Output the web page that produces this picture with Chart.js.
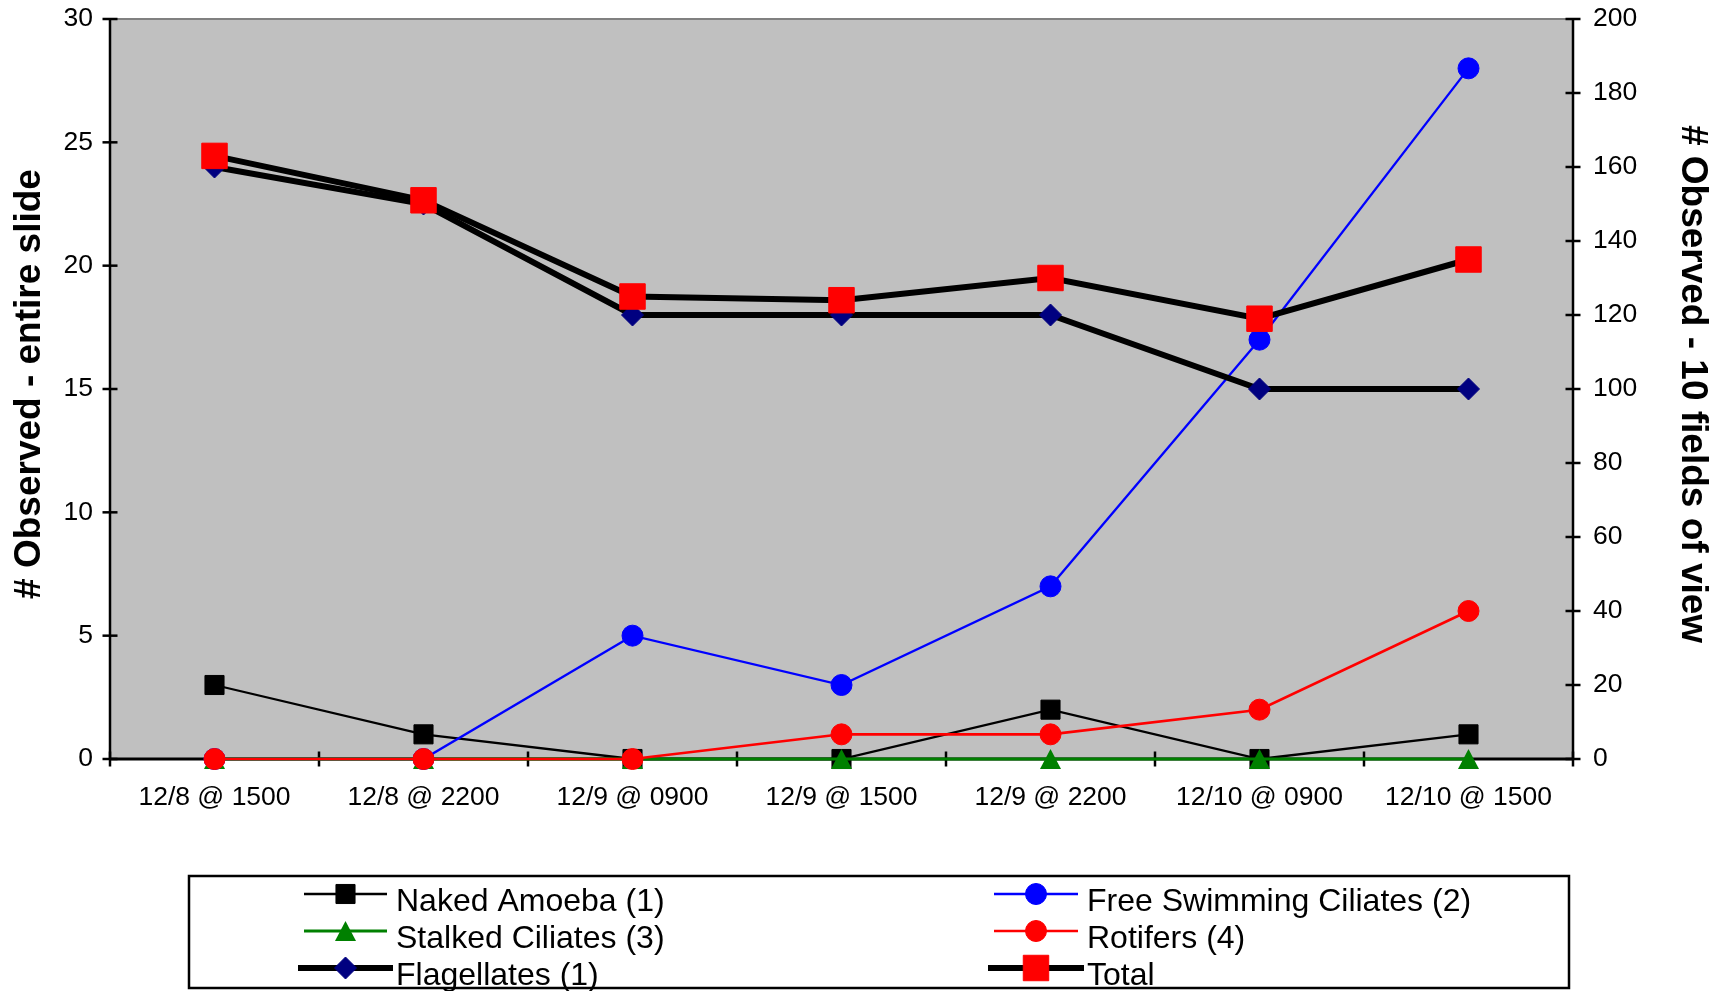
<!DOCTYPE html>
<html>
<head>
<meta charset="utf-8">
<title>Protozoa observed over time</title>
<style>
  html, body { margin: 0; padding: 0; background: #ffffff; }
  #wrap { position: relative; width: 1725px; height: 991px; }
  canvas { display: block; }
</style>
<script src="https://cdn.jsdelivr.net/npm/chart.js@4.4.1/dist/chart.umd.min.js"></script>
</head>
<body>
<div id="wrap"><canvas id="chart" width="1725" height="991"></canvas></div>
<script>
// Sampling times
const categories = ['12/8 @ 1500', '12/8 @ 2200', '12/9 @ 0900', '12/9 @ 1500', '12/9 @ 2200', '12/10 @ 0900', '12/10 @ 1500'];

// Counts over the entire slide (left axis)
const nakedAmoeba = [3, 1, 0, 0, 2, 0, 1];
const freeSwimmingCiliates = [0, 0, 5, 3, 7, 17, 28];
const stalkedCiliates = [0, 0, 0, 0, 0, 0, 0];
const rotifers = [0, 0, 0, 1, 1, 2, 6];

// Counts over 10 fields of view (right axis)
const flagellates = [160, 150, 120, 120, 120, 100, 100];
const total = [163, 151, 125, 124, 130, 119, 135];

// Axis ranges: [min, max, step]
const leftAxisRange = [0, 30, 5];
const rightAxisRange = [0, 200, 20];

// Axis titles
const leftTitle = '# Observed - entire slide';
const rightTitle = '# Observed - 10 fields of view';

const FONT = "'Liberation Sans', Arial, Helvetica, sans-serif";

// Triangle marker centred on its bounding box
function makeTriangle(w, h, color) {
  const c = document.createElement('canvas');
  c.width = w; c.height = h;
  const g = c.getContext('2d');
  g.fillStyle = color;
  g.beginPath();
  g.moveTo(w / 2, 0);
  g.lineTo(w, h);
  g.lineTo(0, h);
  g.closePath();
  g.fill();
  return c;
}
const greenTriangle = makeTriangle(21, 20, '#008000');

const datasets = [
  { label: 'Naked Amoeba (1)', data: nakedAmoeba, yAxisID: 'y', order: 6,
    borderColor: '#000000', borderWidth: 2.3, pointStyle: 'rect', pointRadius: 13.5,
    pointBackgroundColor: '#000000', pointBorderColor: '#000000' },
  { label: 'Free Swimming Ciliates (2)', data: freeSwimmingCiliates, yAxisID: 'y', order: 5,
    borderColor: '#0000FF', borderWidth: 2.3, pointStyle: 'circle', pointRadius: 10.5,
    pointBackgroundColor: '#0000FF', pointBorderColor: '#0000FF' },
  { label: 'Stalked Ciliates (3)', data: stalkedCiliates, yAxisID: 'y', order: 4,
    borderColor: '#008000', borderWidth: 3, pointStyle: greenTriangle, pointRadius: 11,
    pointBackgroundColor: '#008000', pointBorderColor: '#008000' },
  { label: 'Rotifers (4)', data: rotifers, yAxisID: 'y', order: 3,
    borderColor: '#FF0000', borderWidth: 2.6, pointStyle: 'circle', pointRadius: 10.5,
    pointBackgroundColor: '#FF0000', pointBorderColor: '#FF0000' },
  { label: 'Flagellates (1)', data: flagellates, yAxisID: 'y1', order: 2,
    borderColor: '#000000', borderWidth: 6, pointStyle: 'rectRot', pointRadius: 11,
    pointBackgroundColor: '#000080', pointBorderColor: '#000080' },
  { label: 'Total', data: total, yAxisID: 'y1', order: 1,
    borderColor: '#000000', borderWidth: 6, pointStyle: 'rect', pointRadius: 18,
    pointBackgroundColor: '#FF0000', pointBorderColor: '#FF0000' }
];
datasets.forEach(d => {
  d.tension = 0;
  d.fill = false;
  d.clip = false;
  d.pointBorderWidth = 1;
  d.pointHoverRadius = d.pointRadius;
  d.borderJoinStyle = 'miter';
});

function strokeLine(ctx, x1, y1, x2, y2) {
  ctx.beginPath();
  ctx.moveTo(x1, y1);
  ctx.lineTo(x2, y2);
  ctx.stroke();
}

// Grey plot area, axis lines and crossing tick marks
const plotFrame = {
  id: 'plotFrame',
  beforeDatasetsDraw(chart) {
    const { ctx, chartArea: a, scales } = chart;
    ctx.save();
    ctx.fillStyle = '#C0C0C0';
    ctx.fillRect(a.left, a.top, a.right - a.left, a.bottom - a.top);

    ctx.strokeStyle = '#808080';
    ctx.lineWidth = 2;
    strokeLine(ctx, a.left, a.top, a.right, a.top);

    ctx.strokeStyle = '#000000';
    ctx.lineWidth = 2.5;
    strokeLine(ctx, a.left, a.top - 1, a.left, a.bottom + 1);
    strokeLine(ctx, a.right, a.top - 1, a.right, a.bottom + 1);
    ctx.lineWidth = 3;
    strokeLine(ctx, a.left, a.bottom, a.right, a.bottom);

    ctx.lineWidth = 2.5;
    const half = 7.5;
    scales.y.ticks.forEach(t => {
      const py = scales.y.getPixelForValue(t.value);
      strokeLine(ctx, a.left - half, py, a.left + half, py);
    });
    scales.y1.ticks.forEach(t => {
      const py = scales.y1.getPixelForValue(t.value);
      strokeLine(ctx, a.right - half, py, a.right + half, py);
    });
    const n = categories.length;
    for (let i = 0; i <= n; i++) {
      let bx;
      if (i === 0) bx = a.left;
      else if (i === n) bx = a.right;
      else bx = (scales.x.getPixelForValue(i - 1) + scales.x.getPixelForValue(i)) / 2;
      strokeLine(ctx, bx, a.bottom - half, bx, a.bottom + half);
    }
    ctx.restore();
  }
};

// Rotated bold axis titles beside each value axis
const axisTitles = {
  id: 'axisTitles',
  afterDraw(chart) {
    const { ctx, chartArea: a } = chart;
    const cy = (a.top + a.bottom) / 2 - 5;
    ctx.save();
    ctx.fillStyle = '#000000';
    ctx.font = 'bold 37px ' + FONT;
    ctx.textAlign = 'center';
    ctx.textBaseline = 'middle';

    ctx.save();
    ctx.translate(chart.scales.y.left + 30, cy);
    ctx.rotate(-Math.PI / 2);
    ctx.fillText(leftTitle, 0, 0);
    ctx.restore();

    ctx.save();
    ctx.translate(chart.scales.y1.right - 33, cy);
    ctx.rotate(Math.PI / 2);
    ctx.fillText(rightTitle, 0, 0);
    ctx.restore();

    ctx.restore();
  }
};

// Boxed two-column legend with line-and-marker keys
const legendLayout = {
  box: { x: 189, y: 876, w: 1380, h: 112 },
  columns: [
    { lineFrom: 304, lineTo: 387, textX: 396 },
    { lineFrom: 994, lineTo: 1078, textX: 1087 }
  ],
  rowY: [894, 931, 968],
  textDrop: 8,
  fontSize: 32
};
const legendOrder = [0, 1, 2, 3, 4, 5]; // row-major, two per row

function drawMarker(ctx, ds, x, y) {
  const r = ds.pointRadius;
  const style = ds.pointStyle;
  ctx.fillStyle = ds.pointBackgroundColor;
  ctx.strokeStyle = ds.pointBorderColor;
  ctx.lineWidth = 1;
  if (style instanceof HTMLCanvasElement) {
    ctx.drawImage(style, x - style.width / 2, y - style.height / 2);
    return;
  }
  ctx.beginPath();
  if (style === 'rect') {
    const s = r * Math.SQRT1_2;
    ctx.rect(x - s, y - s, 2 * s, 2 * s);
  } else if (style === 'circle') {
    ctx.arc(x, y, r, 0, Math.PI * 2);
  } else if (style === 'rectRot') {
    ctx.moveTo(x - r, y);
    ctx.lineTo(x, y - r);
    ctx.lineTo(x + r, y);
    ctx.lineTo(x, y + r);
    ctx.closePath();
  }
  ctx.fill();
  ctx.stroke();
}

const boxedLegend = {
  id: 'boxedLegend',
  afterDraw(chart) {
    const { ctx } = chart;
    const L = legendLayout;
    ctx.save();
    ctx.fillStyle = '#ffffff';
    ctx.fillRect(L.box.x, L.box.y, L.box.w, L.box.h);
    ctx.strokeStyle = '#000000';
    ctx.lineWidth = 2.5;
    ctx.strokeRect(L.box.x, L.box.y, L.box.w, L.box.h);

    legendOrder.forEach((dsIndex, k) => {
      const ds = chart.data.datasets[dsIndex];
      const col = L.columns[k % 2];
      const y = L.rowY[Math.floor(k / 2)];
      const extra = ds.borderWidth > 4 ? 6 : 0;
      ctx.strokeStyle = ds.borderColor;
      ctx.lineWidth = ds.borderWidth;
      ctx.lineCap = 'butt';
      strokeLine(ctx, col.lineFrom - extra, y, col.lineTo + extra, y);
      drawMarker(ctx, ds, (col.lineFrom + col.lineTo) / 2, y);

      ctx.fillStyle = '#000000';
      ctx.font = L.fontSize + 'px ' + FONT;
      ctx.textAlign = 'left';
      ctx.textBaseline = 'middle';
      ctx.fillText(ds.label, col.textX, y + L.textDrop);
    });
    ctx.restore();
  }
};

const tickFont = { family: FONT, size: 26.5 };

// Fixed axis sizes so the plot area sits where intended
function fixVertical(width) {
  return function (s) {
    s.width = width;
    s.paddingTop = 0;
    s.paddingBottom = 0;
  };
}

new Chart(document.getElementById('chart'), {
  type: 'line',
  data: { labels: categories, datasets: datasets },
  plugins: [plotFrame, axisTitles, boxedLegend],
  options: {
    responsive: false,
    animation: false,
    devicePixelRatio: 1,
    events: [],
    layout: { padding: { top: 13, left: 0, right: 0, bottom: 0 } },
    plugins: { legend: { display: false }, tooltip: { enabled: false }, title: { display: false } },
    scales: {
      x: {
        type: 'category',
        offset: true,
        grid: { display: false, drawTicks: false },
        border: { display: false },
        ticks: { font: tickFont, color: '#000000', padding: 23, autoSkip: false, maxRotation: 0, minRotation: 0 },
        afterFit(s) { s.height = 232; s.paddingLeft = 0; s.paddingRight = 0; }
      },
      y: {
        position: 'left',
        min: leftAxisRange[0], max: leftAxisRange[1],
        grid: { display: false, drawTicks: false },
        border: { display: false },
        ticks: { stepSize: leftAxisRange[2], font: tickFont, color: '#000000', padding: 17 },
        afterFit: fixVertical(110)
      },
      y1: {
        position: 'right',
        min: rightAxisRange[0], max: rightAxisRange[1],
        grid: { display: false, drawTicks: false },
        border: { display: false },
        ticks: { stepSize: rightAxisRange[2], font: tickFont, color: '#000000', padding: 20 },
        afterFit: fixVertical(152)
      }
    }
  }
});
</script>
</body>
</html>
